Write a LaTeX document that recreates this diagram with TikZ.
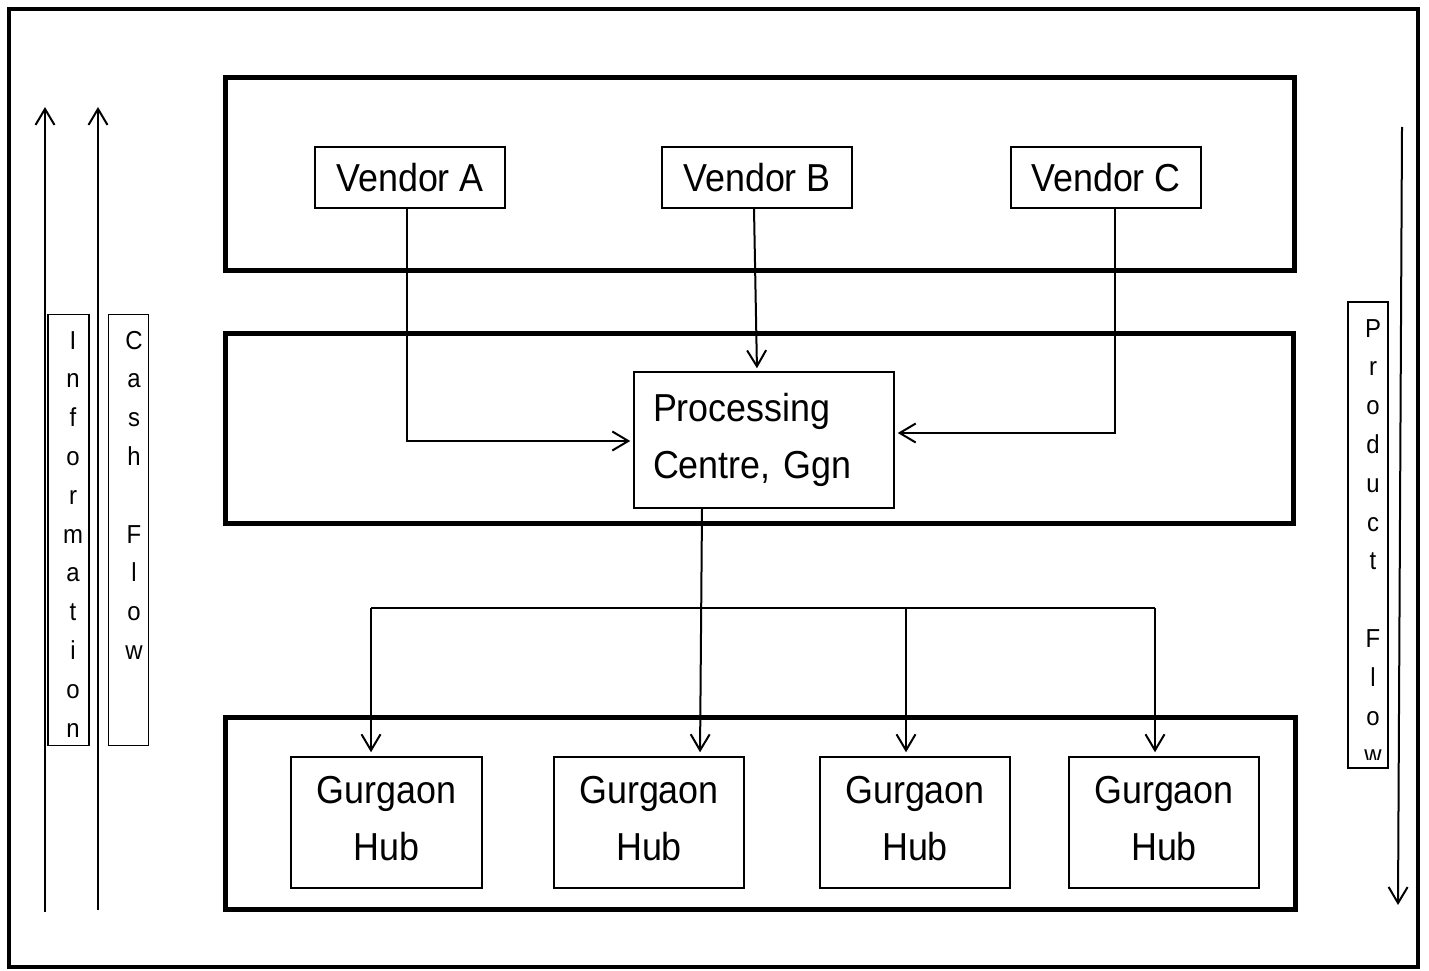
\documentclass[tikz,border=0pt]{standalone}
\usepackage{fontspec}
\setmainfont{Liberation Sans}[FakeStretch=0.92]
\usetikzlibrary{arrows.meta}
\begin{document}
\begin{tikzpicture}[x=1pt,y=-1pt,
  frame/.style={draw,line width=4pt},
  band/.style={draw,line width=5pt},
  box/.style={draw,line width=1.5pt,rectangle,inner sep=0pt,
    font=\fontsize{39}{57}\selectfont},
  sidebox/.style={draw,line width=1.3pt,rectangle,inner sep=0pt},
  flow/.style={line width=2pt,-{Straight Barb[length=16pt,width=19pt,line width=2pt]}},
  link/.style={line width=2pt},
  letter/.style={font=\fontsize{26}{30}\selectfont,anchor=base,inner sep=0pt}]
\useasboundingbox (0,0) rectangle (1429,971);

% outer frame and the three tiers
\draw[frame] (9,9) rectangle (1418,967);
\draw[band] (225,78) rectangle (1294,270);
\draw[band] (225,333) rectangle (1293,523);
\draw[band] (225,717) rectangle (1295,909);

% vendors
\node[box,minimum width=190pt,minimum height=61pt] (va) at (410,177.5) {Vendor A};
\node[box,minimum width=190pt,minimum height=61pt] (vb) at (757,177.5) {Vendor B};
\node[box,minimum width=190pt,minimum height=61pt] (vc) at (1106,177.5) {Vendor C};

% processing centre
\node[box,text width=222pt,inner xsep=19pt,minimum height=136pt,align=left] (pc) at (764,440)
  {Processing\\Centre, Ggn};

% hubs
\node[box,minimum width=191pt,minimum height=131pt,align=center] (h1) at (386.5,822.5) {Gurgaon\\Hub\vphantom{g}};
\node[box,minimum width=190pt,minimum height=131pt,align=center] (h2) at (649,822.5) {Gurgaon\\Hub\vphantom{g}};
\node[box,minimum width=190pt,minimum height=131pt,align=center] (h3) at (915,822.5) {Gurgaon\\Hub\vphantom{g}};
\node[box,minimum width=190pt,minimum height=131pt,align=center] (h4) at (1164,822.5) {Gurgaon\\Hub\vphantom{g}};

% vendor to processing connectors
\draw[flow,shorten >=3pt] ([xshift=-3pt]va.south) |- ([yshift=-1pt]pc.west);
\draw[flow,shorten >=3pt] ([xshift=-3pt]vb.south) -- ([xshift=-7pt]pc.north);
\draw[flow,shorten >=3pt] ([xshift=9pt]vc.south) |- ([yshift=7pt]pc.east);

% processing to hubs
\draw[flow,shorten >=4pt] ([xshift=-62pt]pc.south) -- ([xshift=51pt]h2.north);
\coordinate (busL) at (371,608);
\coordinate (busM) at (906,608);
\coordinate (busR) at (1155,608);
\draw[link] (busL) -- (busR);
\draw[flow,shorten >=4pt] (busL) -- (busL |- h1.north);
\draw[flow,shorten >=4pt] (busM) -- (busM |- h3.north);
\draw[flow,shorten >=4pt] (busR) -- (busR |- h4.north);

% information and cash flow (upwards)
\coordinate (inA) at (45,912);
\coordinate (inB) at (45,107);
\coordinate (caA) at (98,910);
\coordinate (caB) at (98,107);
\draw[flow] (inA) -- (inB);
\draw[flow] (caA) -- (caB);

\node[sidebox,minimum width=41pt,minimum height=431pt] (infobox) at (68.5,530) {};
\node[sidebox,minimum width=40pt,minimum height=431pt] (cashbox) at (128.5,530) {};
\foreach \k/\ch in {0/I,1/n,2/f,3/o,4/r,5/m,6/a,7/t,8/i,9/o,10/n}
  \node[letter] (info\k) at (73,{349+\k*38.8}) {\ch};
\foreach \k/\ch in {0/C,1/a,2/s,3/h,5/F,6/l,7/o,8/w}
  \node[letter] (cash\k) at (134,{349+\k*38.8}) {\ch};

% product flow (downwards)
\coordinate (prA) at (1402,127);
\coordinate (prB) at (1398,905);
\draw[flow] (prA) -- (prB);
\node[sidebox,minimum width=40pt,minimum height=466pt] (prodbox) at (1368,535) {};
\begin{scope}
  \clip (1348,302) rectangle (1388,759);
  \foreach \k/\ch in {0/P,1/r,2/o,3/d,4/u,5/c,6/t,8/F,9/l,10/o,11/w}
    \node[letter] (prod\k) at (1373,{337+\k*38.8}) {\ch};
\end{scope}
\end{tikzpicture}
\end{document}
